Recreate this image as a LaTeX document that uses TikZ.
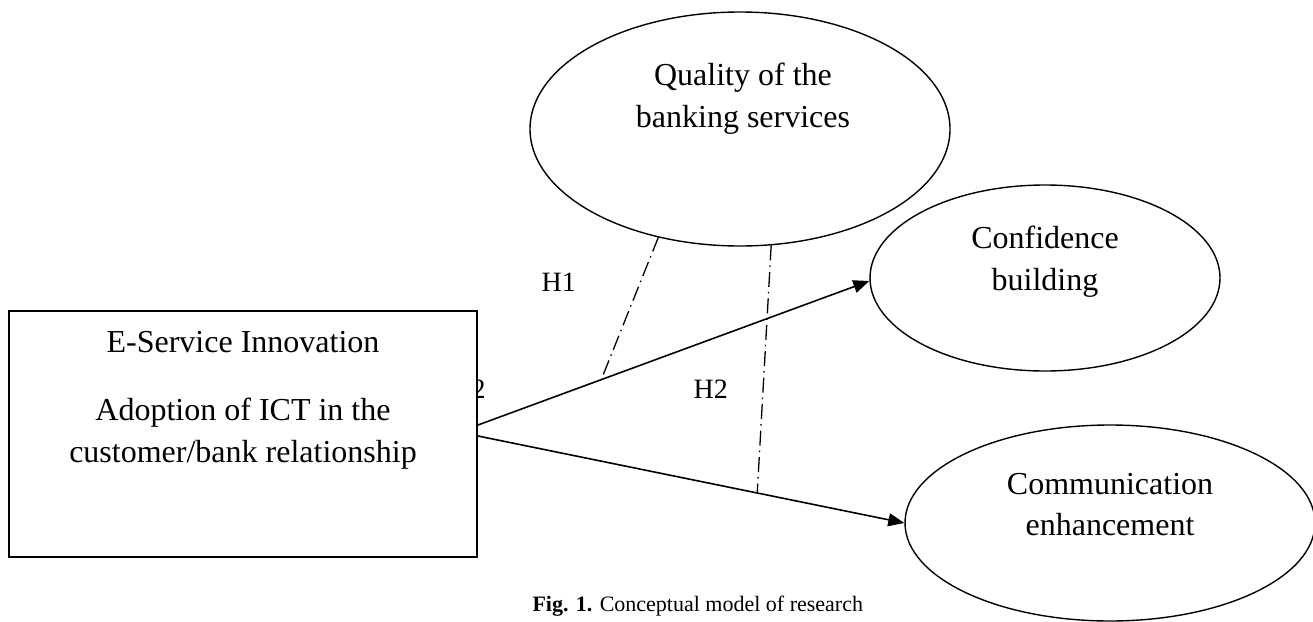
\documentclass[tikz,border=0pt]{standalone}
\usepackage{fontspec}
\setmainfont{Liberation Serif}
\usetikzlibrary{arrows.meta,shapes.geometric}
\begin{document}
\begin{tikzpicture}[x=1pt,y=-1pt,
  ell/.style={draw, ellipse, line width=1.4pt, inner sep=0pt},
  big/.style={anchor=base, font=\fontsize{32}{38}\selectfont},
  hyp/.style={anchor=base west, font=\fontsize{28}{33}\selectfont},
  arr/.style={line width=1.6pt, -{Triangle[length=16pt,width=13pt]}},
  dd/.style={line width=1.3pt, dash pattern=on 15pt off 5pt on 1.5pt off 5pt}
]
\useasboundingbox (0,0) rectangle (1313,621);

% ellipses
\node[ell, minimum width=420pt, minimum height=234pt] (qual) at (740,129) {};
\node[ell, minimum width=350pt, minimum height=186pt] (conf) at (1045,278) {};
\node[ell, minimum width=410pt, minimum height=196pt] (comm) at (1110,523) {};

\node[big] (qt1) at (743,85) {Quality of the};
\node[big] (qt2) at (743,127) {banking services};
\node[big] (ct1) at (1045,248) {Confidence};
\node[big] (ct2) at (1045,290) {building};
\node[big] (mt1) at (1110,494) {Communication};
\node[big] (mt2) at (1110,535) {enhancement};

% partly hidden label
\node[hyp] (h3) at (468,398) {2};

% box
\node[draw, line width=2pt, fill=white, minimum width=468pt, minimum height=246pt, inner sep=0pt] (box) at (243,434) {};
\node[big] (bt1) at (243,352) {E-Service Innovation};
\node[big] (bt2) at (243,420) {Adoption of ICT in the};
\node[big] (bt3) at (243,462) {customer/bank relationship};

% arrows
\coordinate (s1) at ([yshift=9pt]box.east);
\coordinate (s2) at ([yshift=-2pt]box.east);
\coordinate (e1) at ([yshift=-3pt]conf.west);
\draw[arr] (s1) -- (e1) coordinate[pos=0.315] (m1);
\draw[arr] (s2) -- (comm.west) coordinate[pos=0.655] (m2);

% moderating dash-dot lines
\draw[dd] (qual.233) -- (m1);
\draw[dd] (qual.285) -- (m2);

\node[hyp] (h1) at (538,291) {H1};
\node[hyp] (h2) at (690,398) {H2};

\node[anchor=base west, font=\fontsize{22}{26}\selectfont] (cap) at (529,611) {\textbf{Fig. 1.} Conceptual model of research};
\end{tikzpicture}
\end{document}
